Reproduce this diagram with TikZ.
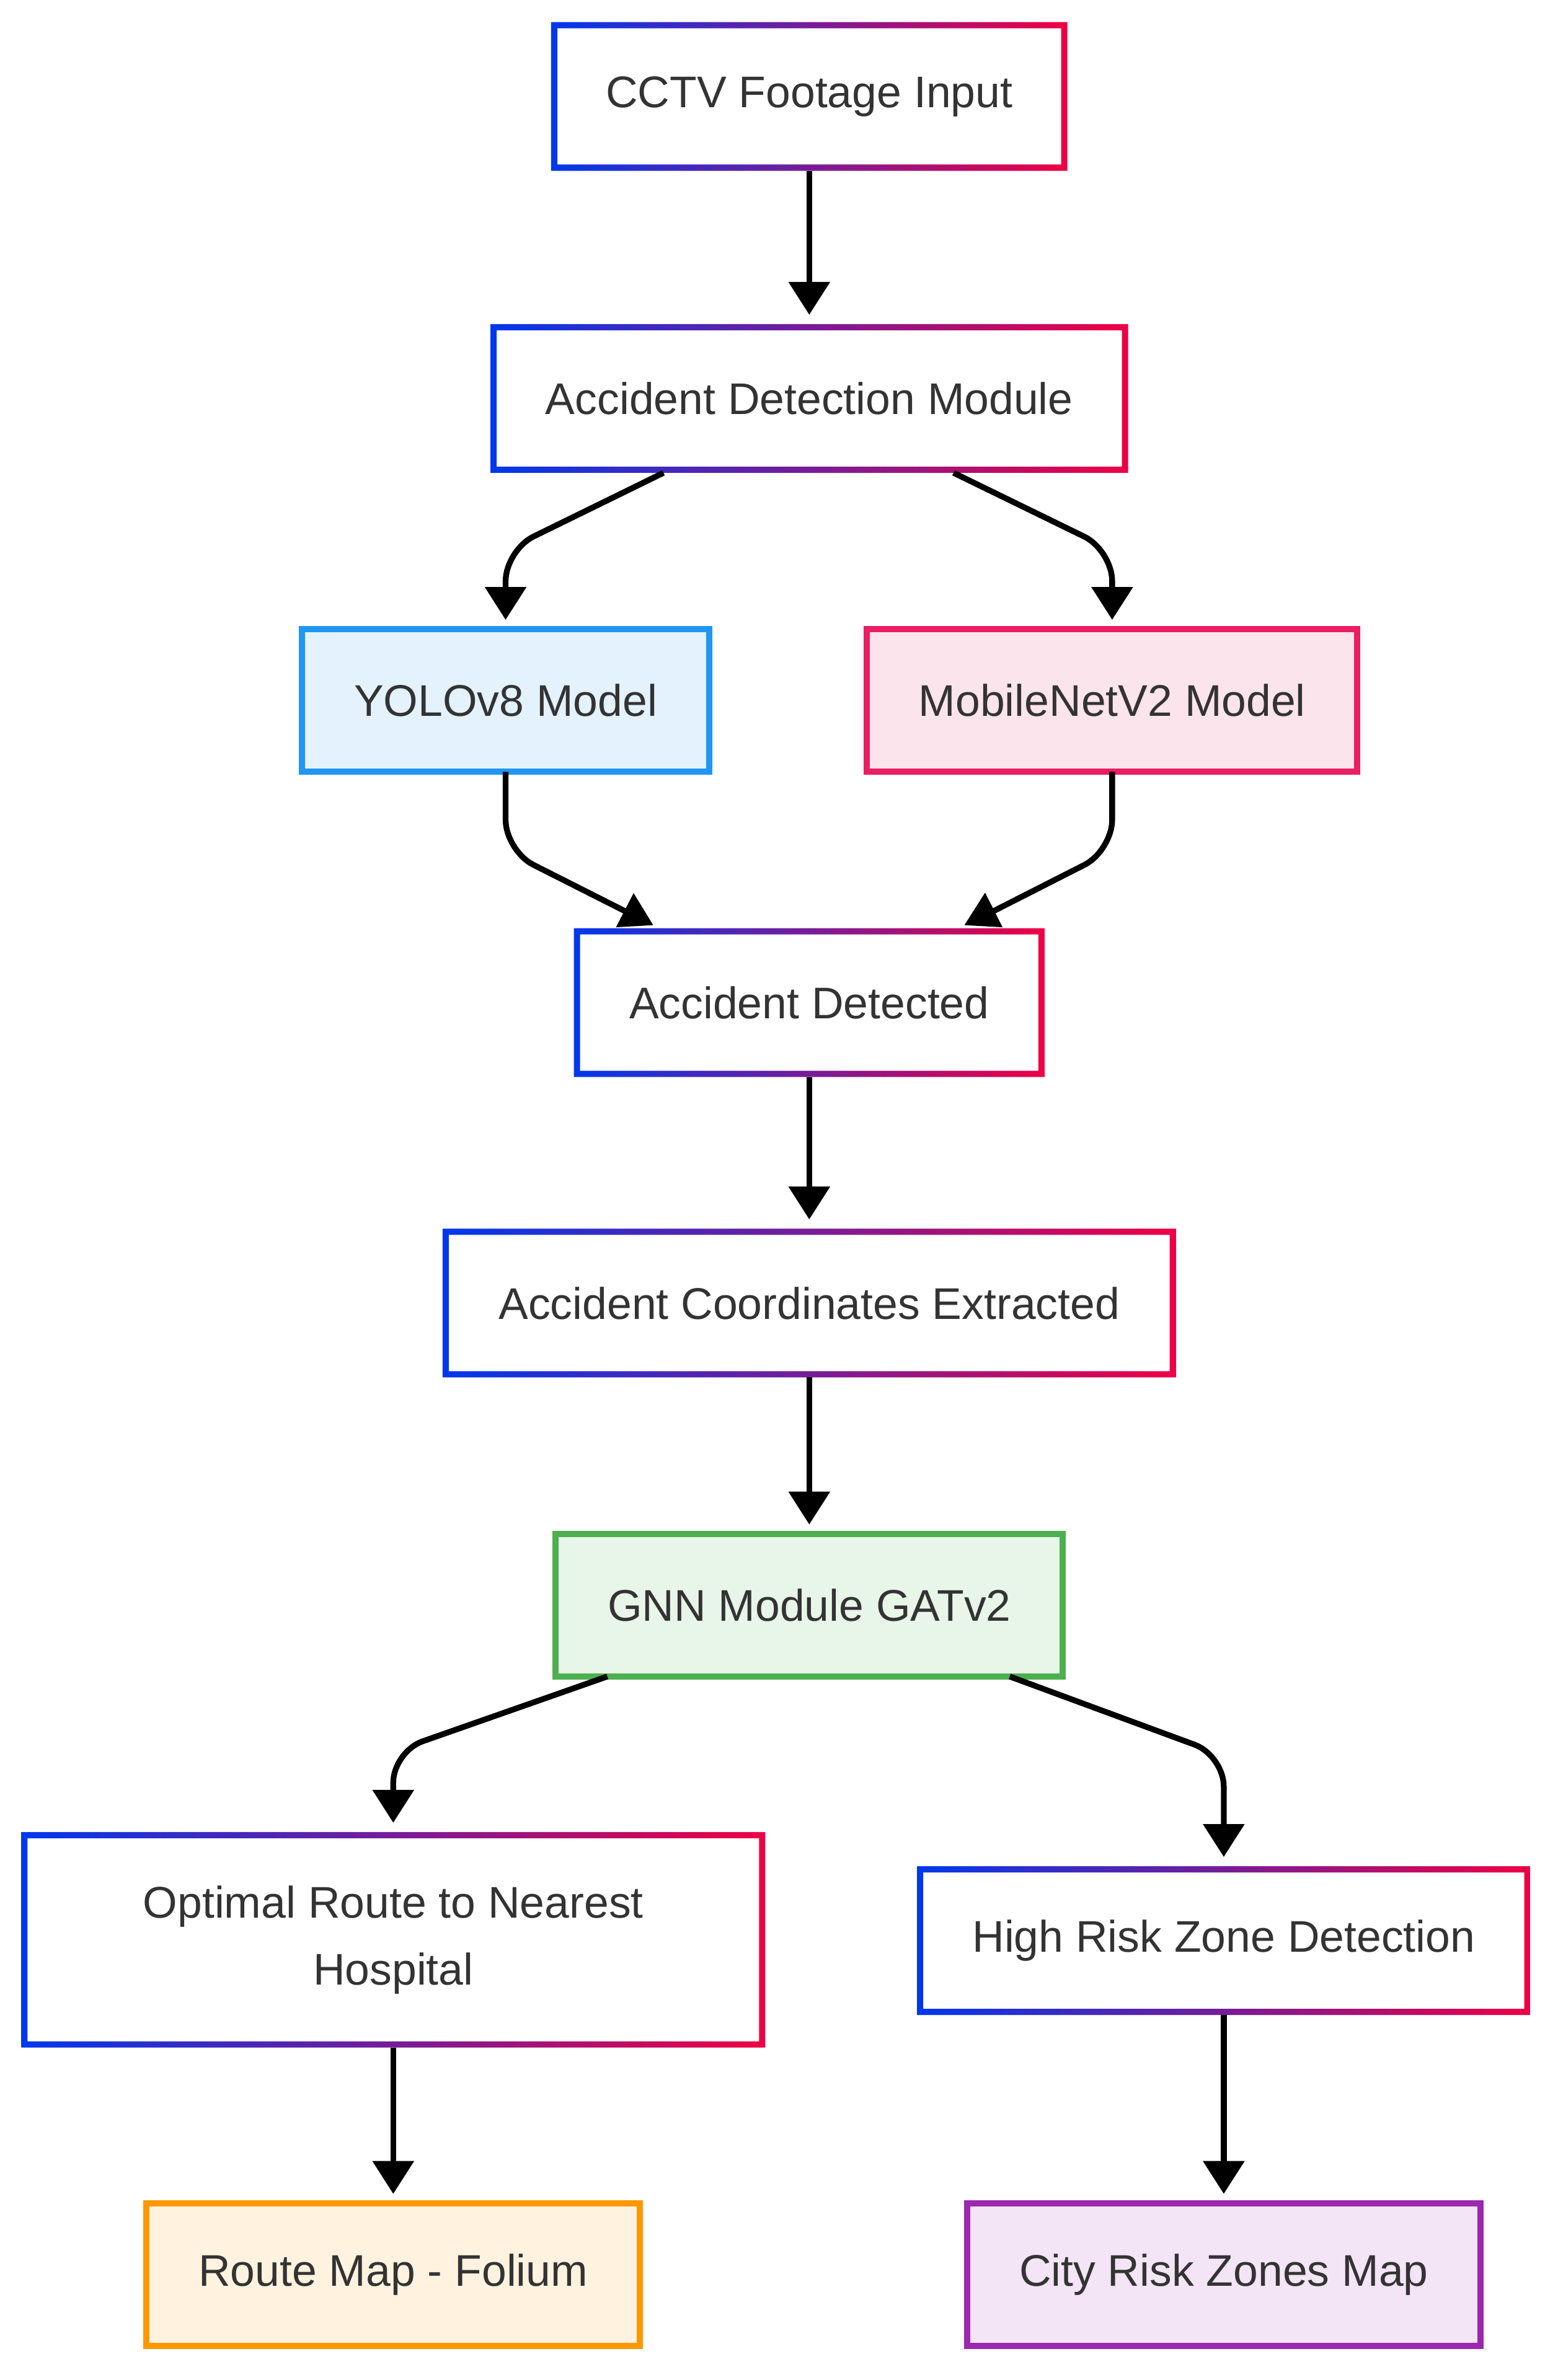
\documentclass[tikz,border=0pt]{standalone}
\usepackage{fontspec}
\setmainfont{Liberation Sans}
\usetikzlibrary{arrows.meta}
\definecolor{gradblue}{HTML}{0038EC}
\definecolor{gradred}{HTML}{EE0044}
\definecolor{txt}{HTML}{333333}
\definecolor{yololine}{HTML}{2196F3}
\definecolor{yolofill}{HTML}{E3F2FD}
\definecolor{mobline}{HTML}{E91E63}
\definecolor{mobfill}{HTML}{FCE4EC}
\definecolor{gnnline}{HTML}{4CAF50}
\definecolor{gnnfill}{HTML}{E8F5E9}
\definecolor{mapline}{HTML}{FF9800}
\definecolor{mapfill}{HTML}{FFF3E0}
\definecolor{cityline}{HTML}{9C27B0}
\definecolor{cityfill}{HTML}{F3E5F5}
\newcommand{\px}{0.024483cm}
\tikzset{
  box/.style={rectangle, outer sep=0pt, inner sep=0pt, text=txt, align=center,
    font=\fontsize{20.35pt}{30.6pt}\selectfont},
  boxsize/.style 2 args={minimum width=#1*\px, minimum height=#2*\px},
  gradbox/.style={box, fill=white},
  colbox/.style 2 args={box, draw=#1, fill=#2, line width=2.85pt},
  link/.style={line width=2.65pt, rounded corners=0.5cm},
  flow/.style={link, -{Triangle[length=0.53cm,width=0.65cm]}, shorten >=0.15cm}
}
\begin{document}
\begin{tikzpicture}[x=\px, y=-\px]
			\fill[white] (0,0) rectangle (1026,1568);
			\useasboundingbox (0,0) rectangle (1026,1568);
			% boxes
			\node[gradbox, boxsize={340}{98}] (cctv) at (533,63.5) {CCTV Footage Input};
			\node[gradbox, boxsize={420}{98}] (detect) at (533,262.5) {Accident Detection Module};
			\node[colbox={yololine}{yolofill}, boxsize={268}{94}] (yolo) at (333,461.5) {YOLOv8 Model};
			\node[colbox={mobline}{mobfill}, boxsize={323}{94}] (mobile) at (732.5,461.5) {MobileNetV2 Model};
			\node[gradbox, boxsize={310}{98}] (detected) at (533,660.5) {Accident Detected};
			\node[gradbox, boxsize={483}{98}] (coords) at (533,858.5) {Accident Coordinates Extracted};
			\node[colbox={gnnline}{gnnfill}, boxsize={334}{94}] (gnn) at (533,1057.5) {GNN Module GATv2};
			\node[gradbox, boxsize={490}{142}] (route) at (259,1278) {Optimal Route to Nearest\\Hospital};
			\node[gradbox, boxsize={404}{98}] (risk) at (806,1278.5) {High Risk Zone Detection};
			\node[colbox={mapline}{mapfill}, boxsize={325}{94}] (folium) at (259,1498.5) {Route Map - Folium};
			\node[colbox={cityline}{cityfill}, boxsize={338}{94}] (city) at (806,1498.5) {City Risk Zones Map};
			% gradient borders
			\foreach \n in {cctv,detect,detected,coords,route,risk}
				\shade[left color=gradblue, right color=gradred, even odd rule]
					(\n.south west) rectangle (\n.north east)
					([shift={(2.85pt,2.85pt)}]\n.south west) rectangle ([shift={(-2.85pt,-2.85pt)}]\n.north east);
			% arrows
			\draw[flow] (cctv.south) -- (cctv.south |- detect.north);
			\draw[flow] ([xshift=-96*\px]detect.south) -- ([yshift=-51*\px]yolo.north |- detect.south) -- (yolo.north);
			\draw[flow] ([xshift=95*\px]detect.south) -- ([yshift=-51*\px]mobile.north |- detect.south) -- (mobile.north);
			\draw[link] (yolo.south) -- ([yshift=51*\px]yolo.south |- detected.north) -- ([shift={(42,-7)}]detected.north west);
			\fill ([shift={(39.3,-23.1)}]detected.north west) -- ([shift={(27.7,-0.6)}]detected.north west)
				-- ([shift={(52.2,-2)}]detected.north west) -- cycle;
			\draw[link] (mobile.south) -- ([yshift=51*\px]mobile.south |- detected.north) -- ([shift={(-42,-7)}]detected.north east);
			\fill ([shift={(-39.2,-23.4)}]detected.north east) -- ([shift={(-52.8,-2)}]detected.north east)
				-- ([shift={(-27.7,-0.6)}]detected.north east) -- cycle;
			\draw[flow] (detected.south) -- (detected.south |- coords.north);
			\draw[flow] (coords.south) -- (coords.south |- gnn.north);
			\draw[flow] ([xshift=-133*\px]gnn.south) -- ([yshift=53*\px]route.north) -- (route.north);
			\draw[flow] ([xshift=132*\px]gnn.south) -- ([yshift=73*\px]risk.north) -- (risk.north);
			\draw[flow] (route.south) -- (route.south |- folium.north);
			\draw[flow] (risk.south) -- (risk.south |- city.north);
		\end{tikzpicture}
\end{document}
